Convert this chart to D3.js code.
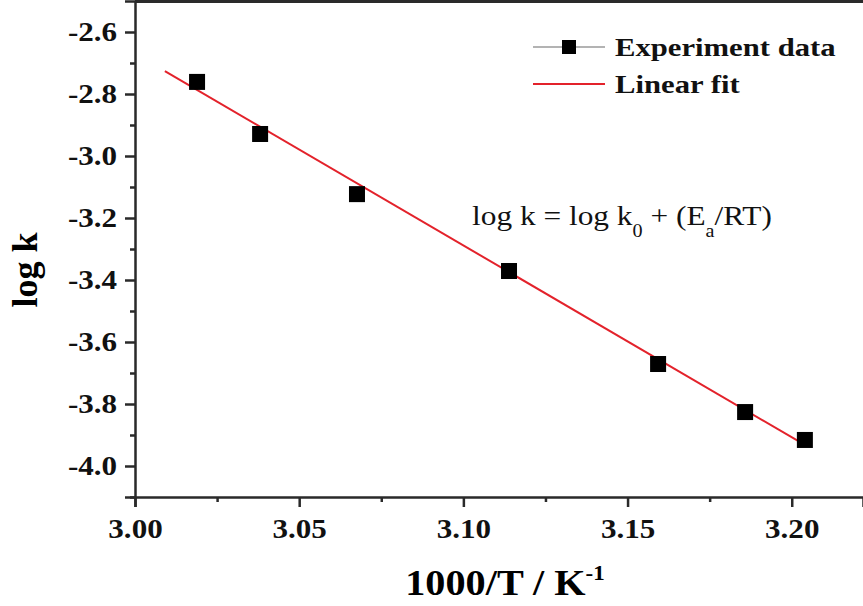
<!DOCTYPE html>
<html>
<head>
<meta charset="utf-8">
<script src="https://cdn.jsdelivr.net/npm/d3@7"></script>
<style>
  body { margin: 0; background: #fff; }
  svg { display: block; font-family: "Liberation Serif", "Times New Roman", serif; }
  .axis path, .axis line { stroke: #2a2a2a; stroke-width: 2.5; }
  .axis text { font-family: "Liberation Serif", "Times New Roman", serif; font-weight: bold; font-size: 27px; fill: #111; }
</style>
</head>
<body>
<svg id="chart" width="863" height="606"></svg>
<script>
// Arrhenius plot data
const invT = [3.0189, 3.0381, 3.0676, 3.1139, 3.1593, 3.1858, 3.2040];
const logK = [-2.761, -2.929, -3.123, -3.371, -3.671, -3.826, -3.916];

// Linear fit end points
const fitX = [3.0091, 3.2040];
const fitY = [-2.726, -3.932];

const xMajor = [3.00, 3.05, 3.10, 3.15, 3.20];
const xMinor = [3.025, 3.075, 3.125, 3.175];
const yMajor = [-4.0, -3.8, -3.6, -3.4, -3.2, -3.0, -2.8, -2.6];
const yMinor = [-4.1, -3.9, -3.7, -3.5, -3.3, -3.1, -2.9, -2.7];

const legendItems = ["Experiment data", "Linear fit"];

// Text in the source picture is stretched sideways
const SX = 1.15;

const W = 863, H = 606;
const pad = { left: 135, top: 1, bottom: 497 };

const svg = d3.select("#chart");

const x = d3.scaleLinear().domain([3.0, 3.2217]).range([pad.left, W]);
const y = d3.scaleLinear().domain([-4.1, -2.5]).range([pad.bottom, pad.top]);

// Frame: top edge
svg.append("line")
  .attr("x1", pad.left).attr("x2", W)
  .attr("y1", pad.top + 0.5).attr("y2", pad.top + 0.5)
  .attr("stroke", "#2a2a2a").attr("stroke-width", 3);

// Minor ticks
svg.append("g").attr("class", "axis")
  .attr("transform", `translate(0,${pad.bottom})`)
  .call(d3.axisBottom(x).tickValues(xMinor).tickSize(5).tickFormat(""))
  .call((g) => g.select(".domain").remove());
svg.append("g").attr("class", "axis")
  .attr("transform", `translate(${pad.left},0)`)
  .call(d3.axisLeft(y).tickValues(yMinor).tickSize(5).tickFormat(""))
  .call((g) => g.select(".domain").remove());

// Major axes
const gx = svg.append("g").attr("class", "axis")
  .attr("transform", `translate(0,${pad.bottom})`)
  .call(d3.axisBottom(x).tickValues(xMajor).tickSizeOuter(0).tickSize(10).tickPadding(12)
    .tickFormat((d) => d.toFixed(2)));
gx.selectAll("text").attr("transform", `scale(${SX},1)`);

const gy = svg.append("g").attr("class", "axis")
  .attr("transform", `translate(${pad.left},0)`)
  .call(d3.axisLeft(y).tickValues(yMajor).tickSizeOuter(0).tickSize(10)
    .tickFormat((d) => d.toFixed(1)));
gy.selectAll("text")
  .attr("x", -18 / SX)
  .attr("transform", `scale(${SX},1)`);

// Linear fit
svg.append("path")
  .datum(d3.zip(fitX, fitY))
  .attr("fill", "none")
  .attr("stroke", "#e3222b")
  .attr("stroke-width", 2)
  .attr("d", d3.line().x((d) => x(d[0])).y((d) => y(d[1])));

// Experiment points
const S = 16;
svg.append("g")
  .selectAll("rect")
  .data(d3.zip(invT, logK))
  .join("rect")
  .attr("x", (d) => x(d[0]) - S / 2)
  .attr("y", (d) => y(d[1]) - S / 2)
  .attr("width", S)
  .attr("height", S)
  .attr("fill", "#000");

// Axis titles
svg.append("text")
  .attr("transform", `translate(505,595) scale(1.15,1)`)
  .attr("text-anchor", "middle")
  .attr("font-weight", "bold")
  .attr("font-size", 35)
  .call((t) => {
    t.append("tspan").text("1000/T / K");
    t.append("tspan").attr("font-size", 20).attr("dy", -15).text("-1");
  });

svg.append("text")
  .attr("transform", "translate(37,270) rotate(-90)")
  .attr("text-anchor", "middle")
  .attr("font-weight", "bold")
  .attr("font-size", 36)
  .text("log k");

// Equation
svg.append("text")
  .attr("transform", "translate(472,225) scale(1.12,1)")
  .attr("font-size", 28)
  .attr("fill", "#111")
  .call((t) => {
    t.append("tspan").text("log k = log k");
    t.append("tspan").attr("font-size", 18).attr("dy", 12).text("0");
    t.append("tspan").attr("dy", -12).text(" + (E");
    t.append("tspan").attr("font-size", 18).attr("dy", 12).text("a");
    t.append("tspan").attr("dy", -12).text("/RT)");
  });

// Legend
const legend = svg.append("g").attr("transform", "translate(533,0)");
const rowY = [47, 84];

legend.append("line")
  .attr("x1", 0).attr("x2", 72)
  .attr("y1", rowY[0]).attr("y2", rowY[0])
  .attr("stroke", "#9a9a9a").attr("stroke-width", 1.5);
legend.append("rect")
  .attr("x", 36 - 7).attr("y", rowY[0] - 7)
  .attr("width", 14).attr("height", 14)
  .attr("fill", "#000");
legend.append("line")
  .attr("x1", 0).attr("x2", 72)
  .attr("y1", rowY[1]).attr("y2", rowY[1])
  .attr("stroke", "#e3222b").attr("stroke-width", 2);

legend.selectAll("text.item")
  .data(legendItems)
  .join("text")
  .attr("class", "item")
  .attr("transform", (d, i) => `translate(82,${rowY[i] + 9}) scale(1.18,1)`)
  .attr("font-weight", "bold")
  .attr("font-size", 26)
  .attr("fill", "#111")
  .text((d) => d);
</script>
</body>
</html>
